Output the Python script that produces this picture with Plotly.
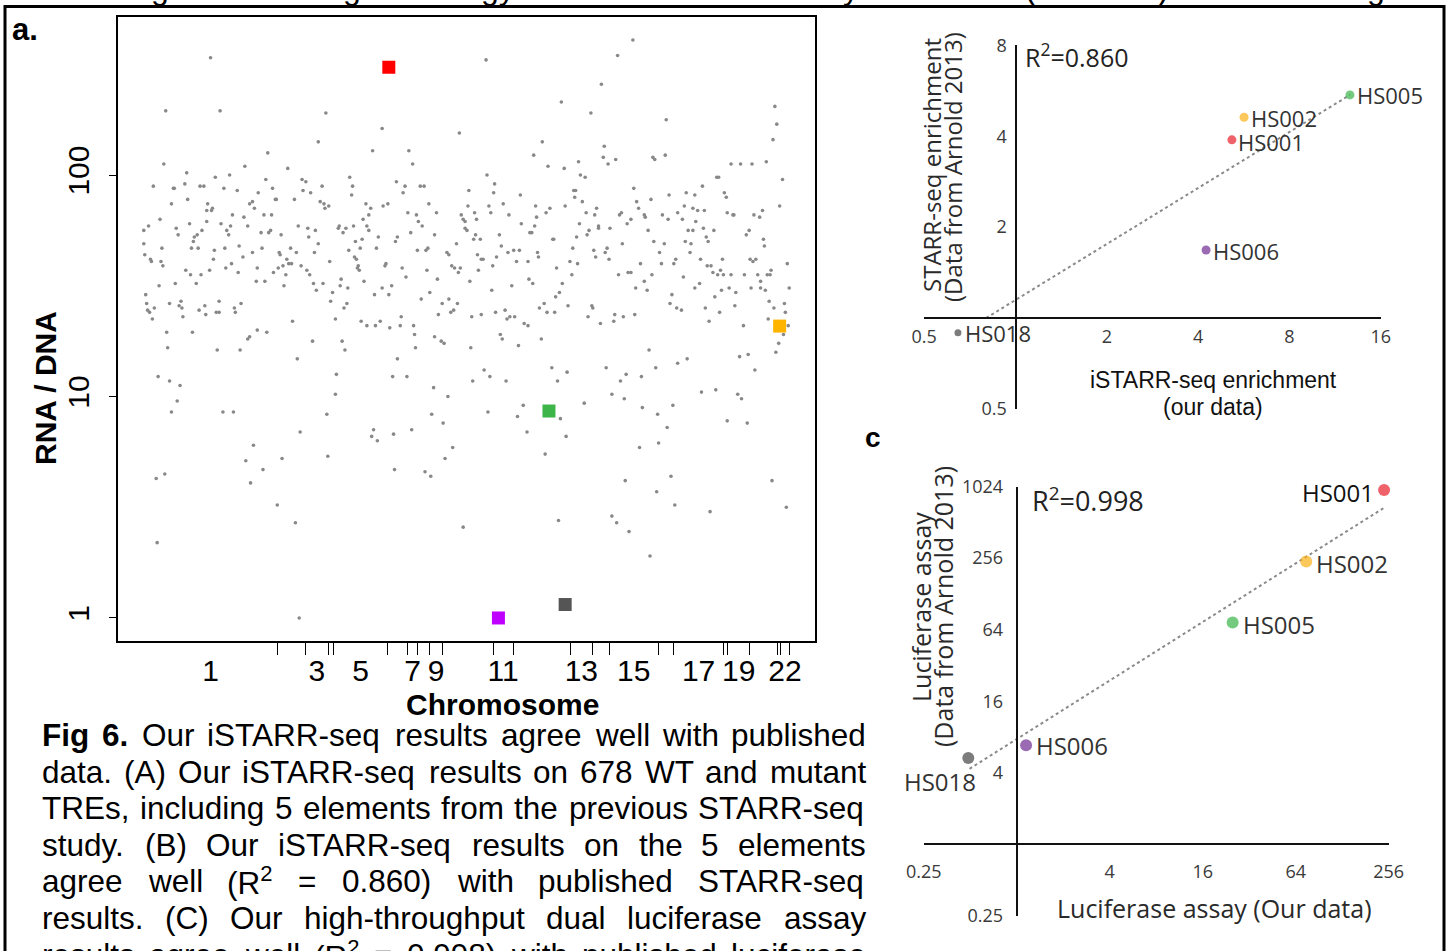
import math
import re
import plotly.graph_objects as go

W, H = 1452, 951

# ------------------------------------------------------------------
# Panel a data: RNA/DNA ratio of each element, ordered by chromosome
# ------------------------------------------------------------------
chrom_counts = [141, 29, 24, 6, 56, 21, 11, 12, 14, 53, 21, 60, 23, 18, 51, 16, 53, 4, 23, 29, 3, 10]
chrom_labels_shown = [1, 3, 5, 7, 9, 11, 13, 15, 17, 19, 22]

elem_order = [
    71, 24, 81, 22, 107, 46, 76, 91, 11, 32, 33, 44, 60, 64, 85, 99, 121, 47, 30, 68,
    67, 72, 73, 112, 115, 117, 18, 1, 6, 35, 37, 49, 67, 62, 57, 54, 53, 82, 88, 90,
    92, 94, 106, 110, 1, 20, 2, 8, 9, 19, 21, 51, 58, 75, 86, 101, 105, 74, 115, 120,
    93, 100, 87, 70, 45, 50, 61, 56, 34, 17, 119, 3, 4, 5, 7, 10, 12, 28, 38, 40,
    41, 42, 59, 65, 66, 77, 80, 80, 96, 97, 103, 25, 52, 120, 110, 112, 26, 78, 102, 16,
    28, 39, 36, 30, 84, 95, 116, 108, 14, 23, 113, 15,
    192, 251, 184, 131, 241, 152, 129, 136, 167, 171,
    168, 176, 188, 217, 220, 219, 266, 139, 140, 159,
    186, 190, 191, 195, 234, 239, 252, 257, 127, 135,
    237, 231, 124, 132, 134, 145, 163, 173, 174, 181,
    184, 205, 206, 210, 213, 221, 230, 223, 235, 237,
    247, 265, 267, 125, 143, 144, 155, 161, 180, 216,
    228, 245, 196, 222, 224, 137, 142, 147, 151, 153,
    156, 150, 166, 172, 175, 226, 225, 227, 255, 254,
    128, 148, 179, 182, 189, 208, 207, 215, 199, 197,
    232, 243, 251, 258, 261, 214, 211, 157, 202, 229,
    235, 244, 249, 259, 130, 178, 209, 212, 162, 267,
    262, 203, 202, 193, 165, 242, 240, 246, 263, 146,
    194, 126, 264, 141, 160, 164,
    360, 332, 279, 283, 410, 361, 369, 368, 342, 275,
    273, 291, 295, 300, 278, 287, 289, 293, 281, 308,
    306, 334, 336, 338, 341, 338, 340, 348, 350, 363,
    365, 378, 384, 396, 397, 412, 413, 406, 408, 411,
    349, 347, 354, 374, 288, 297, 299, 319, 321, 329,
    376, 383, 389, 395, 404, 414, 415, 392, 272, 276,
    298, 309, 324, 327, 331, 333, 343, 351, 352, 355,
    357, 367, 371, 405, 409, 387, 366, 301, 292, 314,
    321, 330, 323, 326, 310, 345, 355, 370, 380, 382,
    385, 390, 400, 404, 271, 270, 284, 285, 286, 306,
    313, 316, 344, 375, 377, 394, 277, 305, 320, 358,
    346, 364, 381, 362, 303, 315, 399, 393, 403, 282,
    325, 317, 296, 302, 336,
    514, 498, 481, 439, 470, 549, 419, 484, 483, 496,
    535, 537, 548, 488, 425, 442, 457, 459, 464, 452,
    453, 454, 515, 518, 520, 533, 552, 561, 427, 423,
    443, 461, 465, 476, 474, 458, 468, 466, 478, 478,
    490, 500, 502, 508, 512, 526, 527, 530, 545, 551,
    430, 431, 451, 455, 473, 475, 487, 485, 489, 503,
    536, 547, 542, 544, 559, 557, 434, 448, 456, 450,
    499, 509, 512, 522, 534, 517, 526, 529, 440, 437,
    433, 421, 416, 424, 432, 446, 471, 472, 467, 480,
    495, 494, 504, 516, 555, 553, 560, 418, 531, 429,
    435, 445, 486, 501, 507, 523, 538, 561, 492, 505,
    463, 438, 524, 540, 556, 444, 550, 422, 541, 521,
    506, 554, 539, 558, 436, 492, 497, 510, 532,
    663, 665, 661, 617, 627, 639, 654, 671, 602, 604,
    587, 570, 579, 610, 612, 568, 577, 582, 589, 613,
    619, 620, 641, 647, 650, 668, 566, 580, 572, 577,
    588, 591, 593, 599, 633, 636, 651, 652, 569, 575,
    574, 585, 608, 637, 640, 643, 592, 596, 606, 598,
    603, 609, 617, 631, 645, 659, 655, 658, 676, 567,
    584, 579, 607, 615, 622, 638, 648, 648, 653, 678,
    600, 590, 605, 621, 657, 662, 673, 674, 565, 594,
    630, 656, 677, 672, 667, 664, 571, 626, 635, 642,
    586, 601, 624, 628, 613, 634, 660, 675, 595,
]

elem_log10_rna_dna = [
    2.53, 2.29, 2.29, 2.05, 2.04, 2.01, 1.99, 2.00, 1.95, 1.94, 1.94, 1.96, 1.95, 1.95, 1.94, 1.93, 1.92, 1.89, 1.87, 1.87,
    1.84, 1.84, 1.85, 1.87, 1.88, 1.85, 1.80, 1.75, 1.77, 1.76, 1.73, 1.78, 1.79, 1.75, 1.73, 1.72, 1.70, 1.78, 1.75, 1.73,
    1.77, 1.82, 1.81, 1.77, 1.69, 1.67, 1.64, 1.62, 1.61, 1.61, 1.59, 1.67, 1.67, 1.66, 1.67, 1.68, 1.63, 1.62, 1.65, 1.58,
    1.60, 1.56, 1.58, 1.57, 1.57, 1.55, 1.55, 1.51, 1.51, 1.50, 1.52, 1.46, 1.42, 1.39, 1.38, 1.35, 1.40, 1.42, 1.41, 1.43,
    1.40, 1.36, 1.39, 1.41, 1.37, 1.38, 1.38, 1.43, 1.40, 1.38, 1.42, 1.29, 1.29, 1.30, 1.26, 1.27, 1.22, 1.21, 1.21, 1.09,
    1.07, 1.05, 0.98, 0.93, 0.93, 0.93, 0.78, 0.71, 0.63, 0.65, 0.61, 0.34,
    2.28, 2.21, 2.15, 2.10, 2.11, 2.03, 1.98, 1.94, 1.98, 1.97,
    1.93, 1.92, 1.95, 1.99, 1.95, 1.91, 1.97, 1.89, 1.89, 1.89,
    1.88, 1.87, 1.85, 1.86, 1.87, 1.85, 1.86, 1.87, 1.82, 1.82,
    1.82, 1.80, 1.74, 1.74, 1.75, 1.73, 1.77, 1.76, 1.72, 1.75,
    1.69, 1.76, 1.77, 1.74, 1.76, 1.77, 1.71, 1.70, 1.77, 1.75,
    1.72, 1.70, 1.72, 1.67, 1.65, 1.64, 1.67, 1.65, 1.65, 1.66,
    1.67, 1.67, 1.61, 1.63, 1.62, 1.56, 1.58, 1.59, 1.62, 1.60,
    1.60, 1.55, 1.59, 1.57, 1.55, 1.59, 1.58, 1.57, 1.60, 1.59,
    1.52, 1.50, 1.51, 1.48, 1.51, 1.53, 1.50, 1.49, 1.47, 1.43,
    1.52, 1.46, 1.49, 1.46, 1.50, 1.42, 1.40, 1.34, 1.35, 1.34,
    1.32, 1.32, 1.34, 1.31, 1.29, 1.25, 1.25, 1.21, 1.17, 1.17,
    1.09, 1.10, 1.01, 0.92, 0.84, 0.85, 0.82, 0.80, 0.83, 0.72,
    0.73, 0.67, 0.67, 0.51, 0.43, 0.00,
    2.52, 2.19, 2.11, 2.05, 2.09, 2.00, 1.96, 1.92, 1.93, 1.95,
    1.92, 1.95, 1.95, 1.87, 1.83, 1.82, 1.79, 1.77, 1.74, 1.83,
    1.73, 1.82, 1.80, 1.79, 1.86, 1.76, 1.75, 1.83, 1.80, 1.86,
    1.83, 1.87, 1.82, 1.91, 1.78, 1.86, 1.81, 1.74, 1.74, 1.77,
    1.73, 1.71, 1.71, 1.73, 1.66, 1.66, 1.67, 1.65, 1.64, 1.69,
    1.68, 1.65, 1.66, 1.66, 1.61, 1.65, 1.63, 1.61, 1.58, 1.54,
    1.57, 1.53, 1.59, 1.58, 1.56, 1.58, 1.52, 1.64, 1.57, 1.62,
    1.62, 1.59, 1.63, 1.53, 1.51, 1.50, 1.48, 1.47, 1.44, 1.42,
    1.44, 1.42, 1.38, 1.39, 1.37, 1.36, 1.37, 1.38, 1.39, 1.35,
    1.36, 1.36, 1.33, 1.32, 1.36, 1.32, 1.32, 1.28, 1.22, 1.27,
    1.25, 1.24, 1.22, 1.28, 1.26, 1.23, 1.09, 1.04, 1.00, 1.12,
    1.07, 1.09, 1.07, 0.93, 0.92, 0.88, 0.96, 0.91, 0.84, 0.85,
    0.77, 0.72, 0.66, 0.64, 0.41,
    2.61, 2.54, 2.41, 2.33, 2.28, 2.25, 2.15, 2.13, 2.08, 2.07,
    2.08, 2.07, 2.09, 2.05, 2.04, 2.03, 2.06, 2.00, 1.99, 1.93,
    1.90, 1.93, 1.94, 1.88, 1.85, 1.89, 1.91, 1.83, 1.85, 1.83,
    1.86, 1.88, 1.83, 1.85, 1.82, 1.78, 1.75, 1.73, 1.76, 1.77,
    1.76, 1.82, 1.83, 1.78, 1.80, 1.82, 1.81, 1.75, 1.82, 1.80,
    1.71, 1.71, 1.67, 1.72, 1.66, 1.63, 1.67, 1.65, 1.62, 1.69,
    1.70, 1.69, 1.65, 1.60, 1.62, 1.60, 1.58, 1.61, 1.60, 1.55,
    1.55, 1.56, 1.56, 1.60, 1.55, 1.49, 1.52, 1.48, 1.51, 1.47,
    1.45, 1.42, 1.40, 1.38, 1.38, 1.41, 1.41, 1.40, 1.36, 1.33,
    1.37, 1.34, 1.36, 1.37, 1.46, 1.42, 1.40, 1.26, 1.21, 1.13,
    1.07, 1.11, 1.13, 1.07, 1.10, 1.09, 1.13, 1.15, 1.01, 0.99,
    0.97, 0.90, 0.95, 0.92, 0.96, 0.82, 0.86, 0.74, 0.79, 0.77,
    0.62, 0.64, 0.57, 0.51, 0.44, 0.46, 0.43, 0.39, 0.28,
    2.31, 2.23, 2.16, 2.05, 2.05, 2.05, 2.06, 1.98, 1.99, 1.99,
    1.95, 1.92, 1.91, 1.92, 1.90, 1.86, 1.85, 1.84, 1.84, 1.83,
    1.82, 1.82, 1.82, 1.81, 1.84, 1.86, 1.80, 1.79, 1.75, 1.75,
    1.76, 1.72, 1.70, 1.75, 1.73, 1.75, 1.71, 1.68, 1.70, 1.69,
    1.65, 1.62, 1.62, 1.62, 1.61, 1.62, 1.59, 1.59, 1.57, 1.56,
    1.55, 1.55, 1.55, 1.55, 1.55, 1.57, 1.55, 1.55, 1.60, 1.54,
    1.51, 1.49, 1.48, 1.49, 1.47, 1.49, 1.52, 1.49, 1.48, 1.49,
    1.45, 1.40, 1.38, 1.41, 1.43, 1.40, 1.42, 1.38, 1.39, 1.34,
    1.32, 1.35, 1.32, 1.28, 1.24, 1.20, 1.17, 1.18, 1.19, 1.12,
    1.02, 1.03, 1.01, 0.99, 0.89, 0.88, 0.62, 0.50, 0.48,
]

# Highlighted elements (also shown in panels b and c)
hl_names = ["HS001", "HS002", "HS005", "HS006", "HS018"]
hl_order = [258, 668, 426, 373, 443]
hl_rna_dna = [307, 20.8, 8.6, 1.0, 1.15]

# Panel b: iSTARR-seq enrichment (ours) vs STARR-seq enrichment (Arnold 2013)
b_istarr = [5.17, 5.67, 12.67, 4.25, 0.646]
b_starr = [3.89, 4.62, 5.48, 1.68, 0.894]
b_fit_x = [0.80, 12.67]
b_fit_y = [1.0, 5.48]
b_r2 = "0.860"
b_xticks = [0.5, 2, 4, 8, 16]
b_yticks = [0.5, 2, 4, 8]

# Panel c: luciferase assay (ours) vs luciferase assay (Arnold 2013)
c_ours = [238.9, 74.9, 25.0, 1.15, 0.486]
c_arnold = [955, 239, 73.5, 6.83, 5.32]
c_fit_x = [0.495, 241]
c_fit_y = [4.32, 683]
c_r2 = "0.998"
c_xticks = [0.25, 4, 16, 64, 256]
c_yticks = [0.25, 4, 16, 64, 256, 1024]

caption_lines = [
    "<b>Fig</b> <b>6.</b> Our iSTARR-seq results agree well with published",
    "data. (A) Our iSTARR-seq results on 678 WT and mutant",
    "TREs, including 5 elements from the previous STARR-seq",
    "study. (B) Our iSTARR-seq results on the 5 elements",
    "agree well (R<sup>2</sup> = 0.860) with published STARR-seq",
    "results. (C) Our high-throughput dual luciferase assay",
    "results agree well (R<sup>2</sup> = 0.998) with published luciferase",
]

# ------------------------------------------------------------------
# Styles
# ------------------------------------------------------------------
ARIAL = "Liberation Sans, Arial, Helvetica, sans-serif"
MYRIAD = "Open Sans, Noto Sans, sans-serif"
hl_colors_a = ["#ff0000", "#ffb400", "#3db549", "#c000ff", "#555555"]
pt_colors = ["#e8202a", "#fbb116", "#39b54a", "#6f2c91", "#444444"]
b_sizes = [9, 9, 9, 9, 7]
c_sizes = [12, 12, 12, 12, 12]
# label placement (anchor, x shift px, y shift px downward)
b_lab = [("left", 5, 2), ("left", 6, 1), ("left", 6, 0), ("left", 6, 1), ("left", 6, 0)]
c_lab = [("right", -9, 2), ("left", 9, 2), ("left", 9, 2), ("left", 9, 0), ("right", 9, 23)]


def px(x):
    return x / W


def py(y):
    return 1 - y / H


fig = go.Figure()

# ---------------- Panel a ----------------
rna_dna = [10 ** v for v in elem_log10_rna_dna]
fig.add_trace(go.Scatter(
    x=elem_order, y=rna_dna, mode="markers", xaxis="x", yaxis="y",
    marker=dict(symbol="circle", size=3.6, color="#888888", line=dict(width=0)),
    hoverinfo="skip", showlegend=False))
fig.add_trace(go.Scatter(
    x=hl_order, y=hl_rna_dna, mode="markers", xaxis="x", yaxis="y",
    marker=dict(symbol="square", size=13, color=hl_colors_a, line=dict(width=0)),
    text=hl_names, showlegend=False))

cum = []
s = 0
for n in chrom_counts:
    s += n
    cum.append(s)
boundaries = [c + 0.5 for c in cum]
starts = [1] + [c + 1 for c in cum[:-1]]
mids = [(a + b) / 2 for a, b in zip(starts, cum)]
lab_vals = [mids[k - 1] for k in chrom_labels_shown]
n_total = cum[-1]
pad = 0.04 * (n_total - 1)

# ---------------- Panel b ----------------
fig.add_trace(go.Scatter(
    x=b_fit_x, y=b_fit_y, mode="lines", xaxis="x2", yaxis="y2",
    line=dict(color="#8a8a8a", width=2, dash="dot"), showlegend=False, cliponaxis=False))
fig.add_trace(go.Scatter(
    x=b_istarr, y=b_starr, mode="markers", xaxis="x2", yaxis="y2",
    marker=dict(size=b_sizes, color=pt_colors, line=dict(width=0)),
    text=hl_names, showlegend=False, cliponaxis=False))

# ---------------- Panel c ----------------
fig.add_trace(go.Scatter(
    x=c_fit_x, y=c_fit_y, mode="lines", xaxis="x3", yaxis="y3",
    line=dict(color="#8a8a8a", width=2, dash="dot"), showlegend=False, cliponaxis=False))
fig.add_trace(go.Scatter(
    x=c_ours, y=c_arnold, mode="markers", xaxis="x3", yaxis="y3",
    marker=dict(size=c_sizes, color=pt_colors, line=dict(width=0)),
    text=hl_names, showlegend=False, cliponaxis=False))


def fmt(v):
    return ("%g" % v)


cross_axis = dict(showline=True, linecolor="#111111", linewidth=2, ticks="",
                  showgrid=False, zeroline=False, type="log", tickmode="array",
                  automargin=False,
                  tickfont=dict(family=MYRIAD, size=18, color="#3a3a3a"))

fig.update_layout(
    width=W, height=H, margin=dict(l=0, r=0, t=0, b=0, pad=0, autoexpand=False),
    paper_bgcolor="white", plot_bgcolor="rgba(0,0,0,0)", showlegend=False,
    xaxis=dict(
        domain=[px(118), px(815)], range=[1 - pad, n_total + pad], anchor="y",
        showline=True, mirror=True, linecolor="black", linewidth=1.5,
        showgrid=False, zeroline=False, automargin=False,
        tickmode="array", tickvals=lab_vals, ticktext=[str(k) for k in chrom_labels_shown],
        ticks="outside", ticklen=2, tickcolor="rgba(0,0,0,0)",
        tickfont=dict(family=ARIAL, size=30, color="black"),
        minor=dict(tickmode="array", tickvals=boundaries, ticks="outside", ticklen=12,
                   tickcolor="black", tickwidth=1.2, showgrid=False),
    ),
    yaxis=dict(
        domain=[py(641), py(16.5)], type="log", range=[-0.104, 2.716], anchor="x",
        showline=True, mirror=True, linecolor="black", linewidth=1.5,
        showgrid=False, zeroline=False, automargin=False,
        tickmode="array", tickvals=[1, 10, 100], ticktext=["1", "10", "100"],
        ticks="outside", ticklen=7, tickwidth=1.2, tickcolor="black", tickangle=-90,
        tickfont=dict(family=ARIAL, size=30, color="black"), ticklabelstandoff=8,
    ),
    xaxis2=dict(cross_axis, domain=[px(924.2), px(1380.7)],
                range=[math.log10(0.5), math.log10(16)], anchor="free", position=py(318),
                tickvals=b_xticks, ticktext=[fmt(v) for v in b_xticks], ticklabelstandoff=2),
    yaxis2=dict(cross_axis, domain=[py(408.9), py(45.3)],
                range=[math.log10(0.5), math.log10(8)], anchor="free", position=px(1015.5),
                tickvals=b_yticks, ticktext=[fmt(v) for v in b_yticks], ticklabelstandoff=4),
    xaxis3=dict(cross_axis, domain=[px(923.7), px(1388.7)],
                range=[math.log10(0.25), math.log10(256)], anchor="free", position=py(844.3),
                tickvals=c_xticks, ticktext=[fmt(v) for v in c_xticks], ticklabelstandoff=11),
    yaxis3=dict(cross_axis, domain=[py(915.9), py(486.5)],
                range=[math.log10(0.25), math.log10(1024)], anchor="free", position=px(1016.7),
                tickvals=c_yticks, ticktext=[fmt(v) for v in c_yticks], ticklabelstandoff=9),
)

annotations = []


def ann(text, x, y, size, family, color="black", xanchor="center", yanchor="middle", angle=0):
    annotations.append(dict(
        text=text, x=px(x), y=py(y), xref="paper", yref="paper", showarrow=False,
        xanchor=xanchor, yanchor=yanchor, textangle=angle, borderpad=0, borderwidth=0,
        font=dict(family=family, size=size, color=color)))


# panel letters / outer text fragments (bottom of the preceding, cut-off text line)
ann("<b>a.</b>", 12, 29, 31, ARIAL, xanchor="left")
ann("<b>c</b>", 865, 437, 28, ARIAL, xanchor="left")
for frag, fx in [("g", 160), ("g", 352), ("gy", 498), ("y", 851), ("(", 1030), (")", 1163), ("g", 1376)]:
    ann(frag, fx, -12, 32, ARIAL)

# panel a titles
ann("<b>Chromosome</b>", 503, 704, 30, ARIAL)
ann("<b>RNA / DNA</b>", 45, 388, 30, ARIAL, angle=-90)

# panel b texts
ann("R<sup>2</sup>=" + b_r2, 1025, 56, 25, MYRIAD, color="#222222", xanchor="left")
ann("STARR-seq enrichment", 931, 165, 24, MYRIAD, color="#2a2a2a", angle=-90)
ann("(Data from Arnold 2013)", 952, 167, 24, MYRIAD, color="#2a2a2a", angle=-90)
ann("iSTARR-seq enrichment", 1213, 380, 23, ARIAL, color="#111111")
ann("(our data)", 1213, 407, 23, ARIAL, color="#111111")

# panel c texts
ann("R<sup>2</sup>=" + c_r2, 1032, 500, 27, MYRIAD, color="#222222", xanchor="left")
ann("Luciferase assay", 921, 607, 25, MYRIAD, color="#2a2a2a", angle=-90)
ann("(Data from Arnold 2013)", 943, 607, 25, MYRIAD, color="#2a2a2a", angle=-90)
ann("Luciferase assay (Our data)", 1214, 908, 25, MYRIAD, color="#2a2a2a")

# point labels
for name, xv, yv, (anc, dx, dy) in zip(hl_names, b_istarr, b_starr, b_lab):
    annotations.append(dict(text=name, x=math.log10(xv), y=math.log10(yv), xref="x2", yref="y2",
                            showarrow=False, xanchor=anc, yanchor="middle", xshift=dx, yshift=-dy,
                            borderpad=0, font=dict(family=MYRIAD, size=22, color="#333333")))
for name, xv, yv, (anc, dx, dy) in zip(hl_names, c_ours, c_arnold, c_lab):
    annotations.append(dict(text=name, x=math.log10(xv), y=math.log10(yv), xref="x3", yref="y3",
                            showarrow=False, xanchor=anc, yanchor="middle", xshift=dx, yshift=-dy,
                            borderpad=0,
                            font=dict(family=MYRIAD, size=24,
                                      color="#111111" if name == "HS001" else "#333333")))

# caption: justified text (word positions computed from Arial metrics)
AW = {" ": 278, "(": 333, ")": 333, ",": 278, "-": 333, ".": 278, "=": 584, "/": 278}
for d in "0123456789":
    AW[d] = 556
AW.update(dict(A=667, B=667, C=722, D=722, E=667, F=611, G=778, H=722, I=278, J=500, K=667,
               L=556, M=833, N=722, O=778, P=667, Q=778, R=722, S=667, T=611, U=722, V=667,
               W=944, X=667, Y=667, Z=611))
AW.update(dict(a=556, b=556, c=500, d=556, e=556, f=278, g=556, h=556, i=222, j=222, k=500,
               l=222, m=833, n=556, o=556, p=556, q=556, r=333, s=500, t=278, u=556, v=500,
               w=722, x=500, y=500, z=500))
AWB = dict(AW)
AWB.update(dict(i=278, g=611, F=611))

CAP_SIZE = 31.5
CAP_X0, CAP_X1 = 42, 866
CAP_Y0, CAP_DY = 735, 36.6


def word_width(word):
    bold = "<b>" in word
    total = 0.0
    for part in re.split(r"(<sup>.*?</sup>)", word):
        if part.startswith("<sup>"):
            inner = re.sub(r"<.*?>", "", part)
            total += 0.7 * sum(AW.get(ch, 556) for ch in inner)
        else:
            clean = re.sub(r"<.*?>", "", part)
            tbl = AWB if bold else AW
            total += sum(tbl.get(ch, 556) for ch in clean)
    return total / 1000 * CAP_SIZE


for li, line in enumerate(caption_lines):
    words = line.split(" ")
    widths = [word_width(w) for w in words]
    gap = (CAP_X1 - CAP_X0 - sum(widths)) / (len(words) - 1)
    xcur = CAP_X0
    yline = CAP_Y0 + li * CAP_DY
    for w, wd in zip(words, widths):
        ann(w, xcur, yline, CAP_SIZE, ARIAL, xanchor="left")
        xcur += wd + gap

fig.update_layout(annotations=annotations)

# outer frame of the figure page
fig.add_shape(type="rect", xref="paper", yref="paper",
              x0=px(5), x1=px(1444), y0=-0.05, y1=py(6.5),
              line=dict(color="black", width=3), fillcolor="rgba(0,0,0,0)", layer="above")

fig.write_html("out.html", config={"displayModeBar": False},
               post_script="document.body.style.margin='0';")
